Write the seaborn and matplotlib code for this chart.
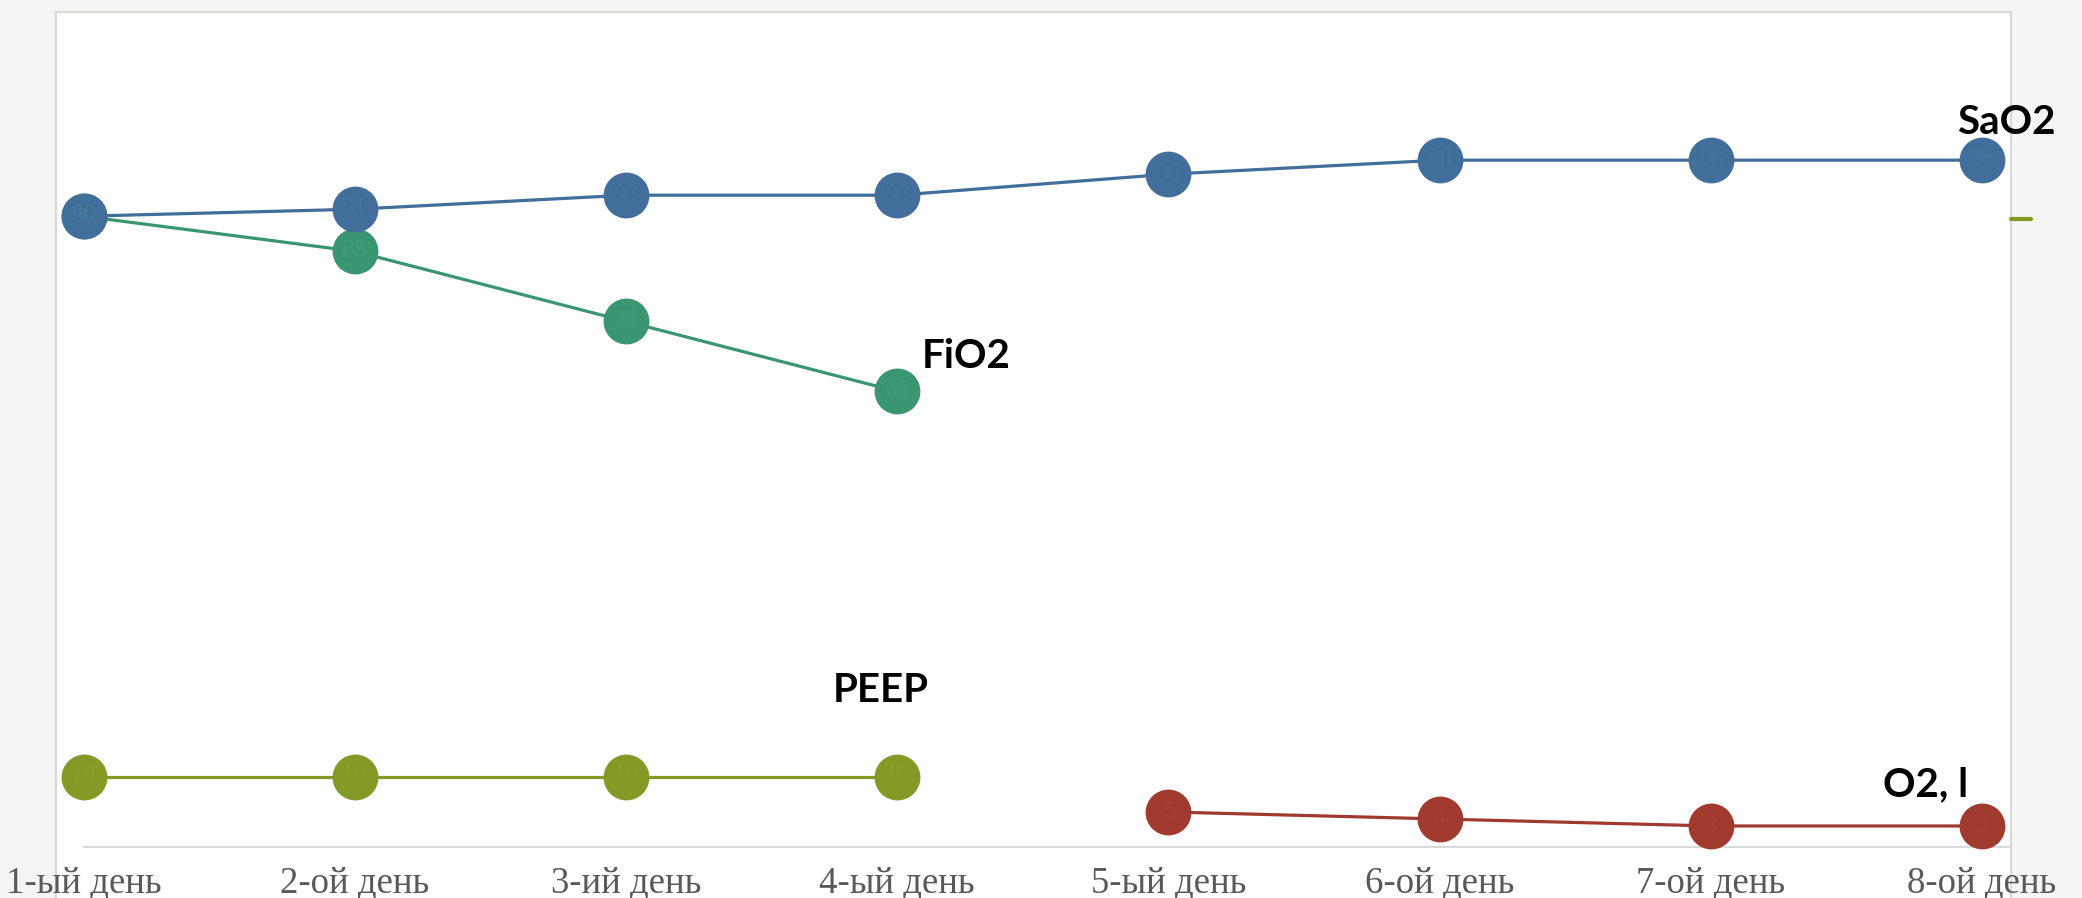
import numpy as np
import pandas as pd
import matplotlib.pyplot as plt
import seaborn as sns
from matplotlib.patches import Rectangle
from matplotlib.lines import Line2D


days = ['1-ый день', '2-ой день', '3-ий день', '4-ый день',
        '5-ый день', '6-ой день', '7-ой день', '8-ой день']

sao2 = [90, 91, 93, 93, 96, 98, 98, 98]
fio2 = [90, 85, 75, 65, None, None, None, None]
peep = [10, 10, 10, 10, None, None, None, None]
o2_l = [None, None, None, None, 5, 4, 3, 3]

series_names = ['PEEP', 'O2, l', 'FiO2', 'SaO2']
series_values = [peep, o2_l, fio2, sao2]
colors = {'SaO2': '#426e9c', 'FiO2': '#3a9670', 'PEEP': '#839a27', 'O2, l': '#a03a2f'}
label_colors = {'SaO2': '#4572a0', 'FiO2': '#3d9a73', 'PEEP': '#869e2b', 'O2, l': '#a43e33'}


rows = []
for name, vals in zip(series_names, series_values):
    for i, v in enumerate(vals):
        if v is not None:
            rows.append({'pos': i, 'day': days[i], 'value': v, 'series': name})
df = pd.DataFrame(rows)


sns.set_style('white')
plt.rcParams['font.family'] = ['Liberation Serif', 'DejaVu Serif']

fig = plt.figure(figsize=(20.82, 8.98), dpi=100)
fig.patch.set_facecolor('#f5f5f4')

# white chart area with thin grey border
fig.add_artist(Rectangle((56 / 2082, -0.01), (2011 - 56) / 2082, (898 - 12) / 898 + 0.01,
                         transform=fig.transFigure, facecolor='white',
                         edgecolor='#d9d9d9', linewidth=1.5, zorder=0))

ax = fig.add_axes([83.6 / 2082, 51 / 898, (2011 - 83.6) / 2082, 827 / 898])
ax.set_facecolor('none')

for name in series_names:
    sub = df[df['series'] == name]
    sns.lineplot(data=sub, x='pos', y='value', color=colors[name], marker='o',
                 markersize=33, markeredgewidth=0, linewidth=2.3, ax=ax,
                 legend=False)
    # data labels, almost hidden inside the markers
    for _, r in sub.iterrows():
        ax.text(r['pos'], r['value'], f"{r['value']:g}", ha='center', va='center',
                fontsize=18, color=label_colors[name], zorder=5, clip_on=False)

for line in ax.lines:
    line.set_clip_on(False)
    line.set_zorder(3)

ax.set_xlim(0, 7.107)
ax.set_ylim(0, 118)
ax.set_xticks(range(len(days)))
ax.set_xticklabels(days, fontsize=26.5, color='#595959')
ax.tick_params(axis='x', length=0, pad=14)
ax.set_yticks([])
ax.set_xlabel('')
ax.set_ylabel('')
for side in ['left', 'right', 'top']:
    ax.spines[side].set_visible(False)
ax.spines['bottom'].set_color('#d9d9d9')
ax.spines['bottom'].set_linewidth(1.5)
ax.spines['bottom'].set_zorder(1)

# series names next to the last point of each series
label_offsets = {'SaO2': (24, 38), 'FiO2': (69, 35), 'PEEP': (-16, 86), 'O2, l': (-56, 41)}
for name, vals in zip(series_names, series_values):
    last = max(i for i, v in enumerate(vals) if v is not None)
    ax.annotate(name, xy=(last, vals[last]), xytext=label_offsets[name],
                textcoords='offset pixels', ha='center', va='center',
                fontsize=29, fontweight='bold', family=['Lato', 'DejaVu Sans'],
                color='black', annotation_clip=False, zorder=6)

# small olive legend stub right of the chart area
fig.add_artist(Line2D([2011 / 2082, 2031 / 2082], [679 / 898, 679 / 898],
                      transform=fig.transFigure, color='#839a27', linewidth=3))

fig.savefig('out.png', dpi=100, facecolor=fig.get_facecolor())
